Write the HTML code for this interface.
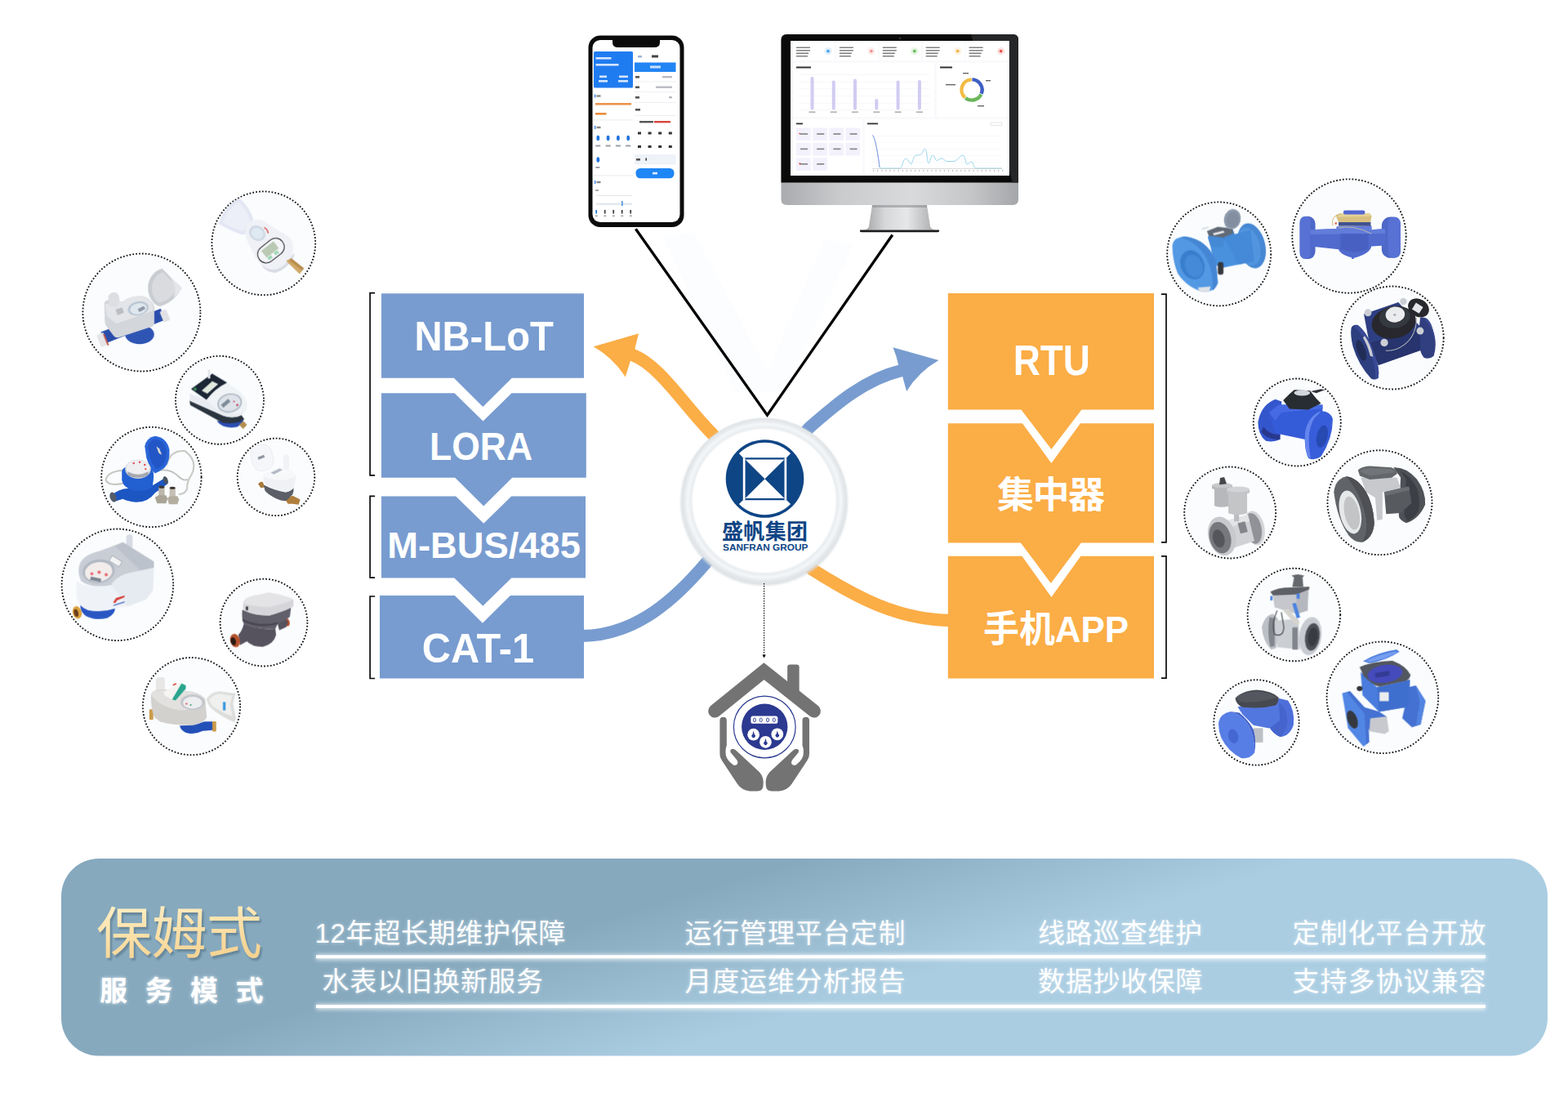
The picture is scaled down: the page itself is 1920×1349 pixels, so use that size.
<!DOCTYPE html>
<html lang="zh-CN"><head><meta charset="utf-8"><title>Smart water meter service diagram</title>
<style>
html,body{margin:0;padding:0;background:#fff}
body{width:1920px;height:1349px;overflow:hidden;font-family:"Liberation Sans","Noto Sans CJK SC",sans-serif}
svg{display:block;font-family:"Liberation Sans","Noto Sans CJK SC",sans-serif}
text{font-family:"Liberation Sans","Noto Sans CJK SC",sans-serif}
</style></head><body>
<svg width="1920" height="1349" viewBox="0 0 1920 1349">
<defs>
<linearGradient id="bannerG" gradientUnits="userSpaceOnUse" x1="1000" y1="1045.9" x2="1051.8" y2="1218.4">
<stop offset="0" stop-color="#86a9be"/><stop offset="0.5" stop-color="#98bbd0"/><stop offset="1" stop-color="#aacde2"/></linearGradient>
<linearGradient id="goldG" x1="0" y1="0" x2="0.3" y2="1">
<stop offset="0" stop-color="#fff1c9"/><stop offset="0.5" stop-color="#fce2ab"/><stop offset="1" stop-color="#f4d292"/></linearGradient>
<filter id="glow" x="-10%" y="-40%" width="120%" height="180%"><feGaussianBlur stdDeviation="2.2"/></filter>
<filter id="glow2" x="-5%" y="-300%" width="110%" height="700%"><feGaussianBlur stdDeviation="2.5"/></filter>
<filter id="sh" x="-10%" y="-10%" width="120%" height="130%"><feGaussianBlur stdDeviation="1.3"/></filter>
<filter id="soft" x="-20%" y="-20%" width="140%" height="140%"><feGaussianBlur stdDeviation="0.6"/></filter>
<filter id="softz" x="-5%" y="-5%" width="110%" height="110%"><feGaussianBlur stdDeviation="3.5"/></filter>
<filter id="soft2" x="-20%" y="-20%" width="140%" height="140%"><feGaussianBlur stdDeviation="1.2"/></filter>
<radialGradient id="ringG" cx="0.5" cy="0.5" r="0.5">
<stop offset="0.86" stop-color="#ffffff"/><stop offset="0.885" stop-color="#e9edf0"/><stop offset="0.93" stop-color="#f4f6f8"/><stop offset="0.97" stop-color="#e6e9ec"/><stop offset="1" stop-color="#dfe3e6"/></radialGradient>
<linearGradient id="chinG" x1="0" y1="0" x2="1" y2="0">
<stop offset="0" stop-color="#a9abae"/><stop offset="0.25" stop-color="#c9cbcd"/><stop offset="0.55" stop-color="#d9dadc"/><stop offset="0.8" stop-color="#c4c6c8"/><stop offset="1" stop-color="#a4a6a9"/></linearGradient>
<linearGradient id="standG" x1="0" y1="0" x2="1" y2="0">
<stop offset="0" stop-color="#9fa1a3"/><stop offset="0.3" stop-color="#d7d8da"/><stop offset="0.6" stop-color="#e6e7e8"/><stop offset="1" stop-color="#a7a9ab"/></linearGradient>
</defs>
<rect width="1920" height="1349" fill="#ffffff"/>
<path d="M812 290 L900 480 L960 480 L1045 300 L1010 292 L940 455 L850 285 Z" fill="#f4f9fd" opacity="0.4"/>
<path d="M1165 759.5 C1100 759 1048 731 994.5 697 L940 640" fill="none" stroke="#fbad46" stroke-width="15.3"/>
<path d="M766 432.5 L774.6 434.5 C808 447 838 497 871.6 530.5 L930 600" fill="none" stroke="#fbad46" stroke-width="15.3"/>
<path d="M726.7 424.2 L782 408.2 L777.4 427.1 L771.9 442 L765.7 461.5 Q751 438 726.7 424.2 Z" fill="#fbad46"/>
<path d="M712 778.6 C780 778 829 731 865.3 688.2 L930 625" fill="none" stroke="#789cd0" stroke-width="15"/>
<path d="M1110 452 L1102.7 453.9 C1060 464 1024 494.4 991.1 523.4 L940 580" fill="none" stroke="#789cd0" stroke-width="15"/>
<path d="M1149.4 441.1 L1093.4 425.3 Q1098 436 1100.2 447.1 L1105.2 460.9 L1110.1 479 Q1125 455 1149.4 441.1 Z" fill="#789cd0"/>
<path d="M467.0 359.3 L715.0 359.3 L715.0 462.7 L626.8 462.7 L591.3 498.0 L555.8 462.7 L467.0 462.7 Z" fill="#789cd0"/>
<path d="M467.0 481.2 L556.5 481.2 L591.5 515.5 L626.5 481.2 L717.8 481.2 L717.8 584.8 L627.2 584.8 L592.2 619.5 L557.2 584.8 L467.0 584.8 Z" fill="#789cd0"/>
<path d="M467.0 607.4 L558.2 607.4 L592.2 640.7 L626.2 607.4 L717.0 607.4 L717.0 707.6 L626.3 707.6 L591.3 741.8 L556.3 707.6 L467.0 707.6 Z" fill="#789cd0"/>
<path d="M465.0 729.0 L556.9 729.0 L590.9 762.7 L624.9 729.0 L715.0 729.0 L715.0 830.5 L465.0 830.5 Z" fill="#789cd0"/>
<path d="M1160.8 358.9 L1413.0 358.9 L1413.0 501.5 L1324.4 501.5 L1287.4 550.0 L1250.4 501.5 L1160.8 501.5 Z" fill="#fbad46"/>
<path d="M1160.8 518.2 L1251.9 518.2 L1287.4 567.0 L1322.9 518.2 L1413.0 518.2 L1413.0 664.4 L1323.8 664.4 L1286.8 713.9 L1249.8 664.4 L1160.8 664.4 Z" fill="#fbad46"/>
<path d="M1160.8 680.8 L1251.4 680.8 L1287.4 730.9 L1323.4 680.8 L1413.0 680.8 L1413.0 830.5 L1160.8 830.5 Z" fill="#fbad46"/>
<path d="M459.1 358.7 H453.1 V581.8 H459.1" fill="none" stroke="#0a0a0a" stroke-width="1.7"/>
<path d="M459.1 607.4 H453.1 V707.2 H459.1" fill="none" stroke="#0a0a0a" stroke-width="1.7"/>
<path d="M459.1 730 H453.1 V830.5 H459.1" fill="none" stroke="#0a0a0a" stroke-width="1.7"/>
<path d="M1422 360.2 H1428 V663.8 H1422" fill="none" stroke="#0a0a0a" stroke-width="1.7"/>
<path d="M1422 680.8 H1428 V830.1 H1422" fill="none" stroke="#0a0a0a" stroke-width="1.7"/>
<text x="507.4" y="429.3" font-size="50" font-weight="700" fill="#fff" textLength="170.5" lengthAdjust="spacingAndGlyphs">NB-LoT</text>
<text x="526" y="563" font-size="48.8" font-weight="700" fill="#fff" textLength="126.0" lengthAdjust="spacingAndGlyphs">LORA</text>
<text x="474.2" y="683" font-size="44.3" font-weight="700" fill="#fff" textLength="236.7" lengthAdjust="spacingAndGlyphs">M-BUS/485</text>
<text x="516.8" y="810.9" font-size="50" font-weight="700" fill="#fff" textLength="137.2" lengthAdjust="spacingAndGlyphs">CAT-1</text>
<text x="1240.7" y="459" font-size="51.3" font-weight="700" fill="#fff" textLength="94.2" lengthAdjust="spacingAndGlyphs">RTU</text>
<text x="1221" y="622" font-size="45" font-weight="700" fill="#fff" textLength="132" lengthAdjust="spacing">集中器</text>
<text x="1204" y="786" font-size="45" font-weight="700" fill="#fff" textLength="178" lengthAdjust="spacingAndGlyphs">手机APP</text>
<path d="M778.4 280.2 L939.5 508.2 L1092.8 287.5" fill="none" stroke="#000" stroke-width="3.3" stroke-linejoin="miter"/>
<circle cx="935.7" cy="614.5" r="102.5" fill="#d9dde1" filter="url(#soft2)" opacity="0.8"/>
<circle cx="935.7" cy="613" r="101" fill="url(#ringG)"/>
<circle cx="936.5" cy="586" r="47.8" fill="#0e4585"/>
<path d="M904.9 555.1 A44.2 44.2 0 0 1 968.1 555.1 L963.2 560.2 L909.8 560.2 Z" fill="#fff"/>
<path d="M904.9 616.9 A44.2 44.2 0 0 0 968.1 616.9 L963.2 612.3 L909.8 612.3 Z" fill="#fff"/>
<rect x="909.8" y="560.2" width="2.7" height="52.1" fill="#fff"/>
<rect x="960.5" y="560.2" width="2.7" height="52.1" fill="#fff"/>
<path d="M912.5 562.4000000000001 L960.5 562.4000000000001 L936.5 586.25 Z M912.5 610.0999999999999 L960.5 610.0999999999999 L936.5 586.25 Z" fill="#fff"/>
<text x="884" y="660" font-size="26" font-weight="700" fill="#0e4585" textLength="105" lengthAdjust="spacing">盛帆集团</text>
<text x="885" y="673.7" font-size="10.6" font-weight="700" fill="#0e4585" textLength="104.4" lengthAdjust="spacingAndGlyphs">SANFRAN GROUP</text>
<path d="M935.6 714 V802" stroke="#111" stroke-width="1.2" stroke-dasharray="1.5 1.5" fill="none"/>
<path d="M933.4 801.5 L935.6 805.5 L937.8 801.5 Z" fill="#111"/>
<g transform="translate(860,800) scale(0.12968)">
<path d="M118 543 L582 167 L1055 543" fill="none" stroke="#737373" stroke-width="125" stroke-linecap="round" stroke-linejoin="miter"/>
<path d="M803 330 V130 Q803 105 828 105 H890 Q915 105 915 130 V420 Z" fill="#737373"/>
<path d="M165 632 Q165 600 197 600 Q230 600 230 632 L230 870 Q215 900 222 960 Q235 1010 290 1050 Q320 1062 333 1040 Q340 1015 310 985 L268 935 Q255 905 285 900 Q305 898 330 925 L540 1120 Q585 1170 575 1250 Q570 1300 520 1300 L450 1300 Q370 1290 330 1230 L185 1010 Q165 985 165 950 Z" fill="#737373"/>
<path d="M165 632 Q165 600 197 600 Q230 600 230 632 L230 870 Q215 900 222 960 Q235 1010 290 1050 Q320 1062 333 1040 Q340 1015 310 985 L268 935 Q255 905 285 900 Q305 898 330 925 L540 1120 Q585 1170 575 1250 Q570 1300 520 1300 L450 1300 Q370 1290 330 1230 L185 1010 Q165 985 165 950 Z" fill="#737373" transform="translate(1175,0) scale(-1,1)"/>
<circle cx="588" cy="694" r="292" fill="#fff" stroke="#2b3990" stroke-width="9"/>
<circle cx="588" cy="692" r="217.5" fill="#2b3990"/>
<rect x="458" y="590" width="254" height="72" rx="20" fill="#fff"/>
<ellipse cx="493" cy="627" rx="12" ry="18" fill="none" stroke="#2b3990" stroke-width="7"/><ellipse cx="553" cy="627" rx="12" ry="18" fill="none" stroke="#2b3990" stroke-width="7"/><ellipse cx="617" cy="627" rx="12" ry="18" fill="none" stroke="#2b3990" stroke-width="7"/><ellipse cx="677" cy="627" rx="12" ry="18" fill="none" stroke="#2b3990" stroke-width="7"/><circle cx="483" cy="765" r="57" fill="#fff"/><path d="M483 729 L492 763 A17 17 0 1 1 474 763 Z" fill="#2b3990"/><circle cx="597" cy="835" r="57" fill="#fff"/><path d="M597 799 L606 833 A17 17 0 1 1 588 833 Z" fill="#2b3990"/><circle cx="708" cy="762" r="57" fill="#fff"/><path d="M708 726 L717 760 A17 17 0 1 1 699 760 Z" fill="#2b3990"/></g>
<rect x="720.5" y="43.5" width="117.0" height="234.5" rx="14.5" fill="#0b0b0c"/>
<rect x="725.5" y="49.0" width="107.0" height="223.0" rx="9.5" fill="#ffffff"/>
<path d="M750 48 H808 V52 Q808 58 801 58 H757 Q750 58 750 52 Z" fill="#0b0b0c"/>
<rect x="727" y="63" width="48" height="44.5" rx="1.5" fill="#1f7cf0"/>
<rect x="729.5" y="70" width="19" height="2.6" fill="#e8f1ff" opacity="0.9"/>
<rect x="729.5" y="78" width="28" height="2.6" fill="#e8f1ff" opacity="0.9"/>
<rect x="734" y="92.5" width="9" height="2.6" fill="#e8f1ff" opacity="0.9"/>
<rect x="733" y="98" width="11" height="2.6" fill="#e8f1ff" opacity="0.9"/>
<rect x="758" y="92.5" width="11" height="2.6" fill="#e8f1ff" opacity="0.9"/>
<rect x="757" y="98" width="12" height="2.6" fill="#e8f1ff" opacity="0.9"/>
<rect x="777" y="76.5" width="50.5" height="11.5" fill="#2185f3"/>
<rect x="796" y="80.5" width="13" height="3" fill="#dbeaff" opacity="0.9"/>
<rect x="798" y="67.5" width="8" height="3" fill="#444"/>
<rect x="781" y="68" width="5" height="2.5" fill="#9bb7dc"/>
<rect x="778" y="93" width="5" height="2.6" fill="#555"/>
<rect x="811" y="93" width="12" height="2.4" fill="#b9bcc2"/>
<rect x="778" y="105.5" width="5" height="2.6" fill="#555"/>
<rect x="803" y="105.5" width="20" height="2.4" fill="#b9bcc2"/>
<rect x="778" y="118" width="5" height="2.6" fill="#555"/>
<rect x="819" y="118" width="4" height="2.4" fill="#b9bcc2"/>
<rect x="778" y="133" width="6" height="2.6" fill="#555"/>
<rect x="777" y="99.5" width="50.5" height="0.8" fill="#e9ecf1"/>
<rect x="777" y="112" width="50.5" height="0.8" fill="#e9ecf1"/>
<rect x="777" y="125" width="50.5" height="0.8" fill="#e9ecf1"/>
<rect x="777" y="141" width="50.5" height="0.8" fill="#e9ecf1"/>
<rect x="783" y="148" width="17" height="2.4" fill="#555"/><rect x="801" y="148" width="20" height="2.4" fill="#d5463c"/>
<rect x="781.0" y="161.5" width="4" height="3" fill="#333"/>
<rect x="793.6" y="161.5" width="4" height="3" fill="#333"/>
<rect x="806.2" y="161.5" width="4" height="3" fill="#333"/>
<rect x="818.8" y="161.5" width="4" height="3" fill="#333"/>
<rect x="781.0" y="178" width="4" height="3" fill="#333"/>
<rect x="793.6" y="178" width="4" height="3" fill="#333"/>
<rect x="806.2" y="178" width="4" height="3" fill="#333"/>
<rect x="818.8" y="178" width="4" height="3" fill="#333"/>
<rect x="777" y="189" width="50.5" height="12.5" fill="#eef2f9"/>
<rect x="779" y="194" width="5" height="2.6" fill="#555"/><rect x="790.5" y="193.5" width="1.5" height="3.2" fill="#333"/>
<rect x="778.5" y="206" width="47" height="12.3" rx="5.5" fill="#1f86f5"/>
<rect x="799" y="210.8" width="6" height="2.6" fill="#e5f0ff"/>
<rect x="728" y="115.5" width="1.3" height="4" fill="#2a7de8"/><rect x="730.5" y="116.3" width="5" height="2.4" fill="#888"/>
<rect x="729" y="126" width="44" height="2.6" fill="#e98a3a" opacity="0.9"/>
<rect x="729" y="138" width="13.5" height="2.6" fill="#e98a3a"/>
<rect x="727" y="146.5" width="48" height="0.8" fill="#e1e5ea"/>
<rect x="728" y="154" width="1.3" height="4" fill="#2a7de8"/><rect x="730.5" y="154.8" width="5" height="2.4" fill="#888"/>
<ellipse cx="732.3" cy="169" rx="1.9" ry="3.3" fill="#2173dc"/>
<rect x="729.3" y="177.5" width="6" height="2" fill="#9aa0a8"/>
<ellipse cx="744.6" cy="169" rx="1.9" ry="3.3" fill="#2173dc"/>
<rect x="741.6" y="177.5" width="6" height="2" fill="#9aa0a8"/>
<ellipse cx="756.9" cy="169" rx="1.9" ry="3.3" fill="#2173dc"/>
<rect x="753.9" y="177.5" width="6" height="2" fill="#9aa0a8"/>
<ellipse cx="769.2" cy="169" rx="1.9" ry="3.3" fill="#2173dc"/>
<rect x="766.2" y="177.5" width="6" height="2" fill="#9aa0a8"/>
<ellipse cx="732.3" cy="195.5" rx="1.9" ry="3.3" fill="#2173dc"/><rect x="729.3" y="204" width="5" height="2" fill="#9aa0a8"/>
<rect x="727" y="214.5" width="48" height="0.8" fill="#e1e5ea"/>
<rect x="728" y="221" width="1.3" height="4" fill="#2a7de8"/><rect x="730.5" y="221.8" width="5" height="2.4" fill="#888"/>
<rect x="729" y="232" width="4" height="2" fill="#aaa"/>
<rect x="730" y="239" width="44" height="0.7" fill="#d8dce2"/><rect x="730" y="248.5" width="44" height="2.6" fill="#e6e9ee"/>
<rect x="761" y="246" width="1.6" height="6" fill="#4b8fe0"/>
<rect x="729.3" y="257" width="1.8" height="4.5" fill="#2a7de8"/><rect x="728.8" y="263.5" width="3" height="1.6" fill="#9aa"/>
<rect x="739.8" y="257" width="1.8" height="4.5" fill="#444"/><rect x="739.3" y="263.5" width="3" height="1.6" fill="#9aa"/>
<rect x="750.3" y="257" width="1.8" height="4.5" fill="#444"/><rect x="749.8" y="263.5" width="3" height="1.6" fill="#9aa"/>
<rect x="760.8" y="257" width="1.8" height="4.5" fill="#444"/><rect x="760.3" y="263.5" width="3" height="1.6" fill="#9aa"/>
<rect x="771.3" y="257" width="1.8" height="4.5" fill="#444"/><rect x="770.8" y="263.5" width="3" height="1.6" fill="#9aa"/>
<path d="M956.5 49 Q956.5 42 963.5 42 H1240 Q1247 42 1247 49 V244 Q1247 251 1240 251 H963.5 Q956.5 251 956.5 244 Z" fill="url(#chinG)"/>
<path d="M956.5 49 Q956.5 42 963.5 42 H1240 Q1247 42 1247 49 V223.6 H956.5 Z" fill="#0a0a0b"/>
<path d="M1189 42 H1240 Q1247 42 1247 49 V223.6 H1240 Z" fill="#2a2b2d" opacity="0.85"/>
<rect x="968" y="50" width="267.6" height="165" fill="#fbfcfe"/>
<circle cx="1102" cy="47" r="1.3" fill="#333"/>
<path d="M1068 251 H1135 L1139 277 Q1140 281 1146 281.5 H1057 Q1063 281 1064 277 Z" fill="url(#standG)"/>
<path d="M1053 281.5 H1150 V283 Q1150 284.2 1148 284.2 H1055 Q1053 284.2 1053 283 Z" fill="#1c1c1d"/>
<rect x="1068" y="251" width="67" height="3" fill="#8e9092" opacity="0.6"/>
<rect x="968" y="50" width="267.6" height="165" fill="#f9fafc"/>
<rect x="971.0" y="52.5" width="51" height="21.5" fill="#fff"/>
<rect x="975.0" y="57.5" width="17" height="1.5" fill="#555" opacity="0.75"/>
<rect x="975.0" y="61.0" width="17" height="1.5" fill="#555" opacity="0.75"/>
<rect x="975.0" y="64.5" width="15" height="1.5" fill="#555" opacity="0.75"/>
<rect x="975.0" y="68.0" width="14" height="1.5" fill="#555" opacity="0.75"/>
<circle cx="1014.0" cy="62.6" r="4.6" fill="#3d9be9" opacity="0.16"/><circle cx="1014.0" cy="62.6" r="1.9" fill="#3d9be9" opacity="0.9"/>
<rect x="1023.9" y="52.5" width="51" height="21.5" fill="#fff"/>
<rect x="1027.9" y="57.5" width="17" height="1.5" fill="#555" opacity="0.75"/>
<rect x="1027.9" y="61.0" width="17" height="1.5" fill="#555" opacity="0.75"/>
<rect x="1027.9" y="64.5" width="15" height="1.5" fill="#555" opacity="0.75"/>
<rect x="1027.9" y="68.0" width="14" height="1.5" fill="#555" opacity="0.75"/>
<circle cx="1066.9" cy="62.6" r="4.6" fill="#f08a8a" opacity="0.16"/><circle cx="1066.9" cy="62.6" r="1.9" fill="#f08a8a" opacity="0.9"/>
<rect x="1076.8" y="52.5" width="51" height="21.5" fill="#fff"/>
<rect x="1080.8" y="57.5" width="17" height="1.5" fill="#555" opacity="0.75"/>
<rect x="1080.8" y="61.0" width="17" height="1.5" fill="#555" opacity="0.75"/>
<rect x="1080.8" y="64.5" width="15" height="1.5" fill="#555" opacity="0.75"/>
<rect x="1080.8" y="68.0" width="14" height="1.5" fill="#555" opacity="0.75"/>
<circle cx="1119.8" cy="62.6" r="4.6" fill="#57b947" opacity="0.16"/><circle cx="1119.8" cy="62.6" r="1.9" fill="#57b947" opacity="0.9"/>
<rect x="1129.7" y="52.5" width="51" height="21.5" fill="#fff"/>
<rect x="1133.7" y="57.5" width="17" height="1.5" fill="#555" opacity="0.75"/>
<rect x="1133.7" y="61.0" width="17" height="1.5" fill="#555" opacity="0.75"/>
<rect x="1133.7" y="64.5" width="15" height="1.5" fill="#555" opacity="0.75"/>
<rect x="1133.7" y="68.0" width="14" height="1.5" fill="#555" opacity="0.75"/>
<circle cx="1172.7" cy="62.6" r="4.6" fill="#f0ad3d" opacity="0.16"/><circle cx="1172.7" cy="62.6" r="1.9" fill="#f0ad3d" opacity="0.9"/>
<rect x="1182.6" y="52.5" width="51" height="21.5" fill="#fff"/>
<rect x="1186.6" y="57.5" width="17" height="1.5" fill="#555" opacity="0.75"/>
<rect x="1186.6" y="61.0" width="17" height="1.5" fill="#555" opacity="0.75"/>
<rect x="1186.6" y="64.5" width="15" height="1.5" fill="#555" opacity="0.75"/>
<rect x="1186.6" y="68.0" width="14" height="1.5" fill="#555" opacity="0.75"/>
<circle cx="1225.6" cy="62.6" r="4.6" fill="#e3473f" opacity="0.16"/><circle cx="1225.6" cy="62.6" r="1.9" fill="#e3473f" opacity="0.9"/>
<rect x="971" y="77" width="173" height="66" fill="#fff"/>
<rect x="975" y="81.5" width="18" height="2" fill="#333"/>
<rect x="978" y="91.5" width="160" height="0.5" fill="#eceef3"/>
<rect x="978" y="100.1" width="160" height="0.5" fill="#eceef3"/>
<rect x="978" y="108.7" width="160" height="0.5" fill="#eceef3"/>
<rect x="978" y="117.3" width="160" height="0.5" fill="#eceef3"/>
<rect x="978" y="125.9" width="160" height="0.5" fill="#eceef3"/>
<rect x="978" y="134.5" width="160" height="0.5" fill="#eceef3"/>
<rect x="992.5" y="94" width="4" height="40.5" rx="2" fill="#c9c3f0" opacity="0.85"/>
<rect x="990.5" y="136.5" width="8" height="1.3" fill="#777" opacity="0.7"/>
<rect x="1018.8" y="98.5" width="4" height="36.0" rx="2" fill="#c9c3f0" opacity="0.85"/>
<rect x="1016.8" y="136.5" width="8" height="1.3" fill="#777" opacity="0.7"/>
<rect x="1045.0" y="96.5" width="4" height="38.0" rx="2" fill="#c9c3f0" opacity="0.85"/>
<rect x="1043.0" y="136.5" width="8" height="1.3" fill="#777" opacity="0.7"/>
<rect x="1071.3" y="121" width="4" height="13.5" rx="2" fill="#c9c3f0" opacity="0.85"/>
<rect x="1069.3" y="136.5" width="8" height="1.3" fill="#777" opacity="0.7"/>
<rect x="1097.6" y="98.5" width="4" height="36.0" rx="2" fill="#c9c3f0" opacity="0.85"/>
<rect x="1095.6" y="136.5" width="8" height="1.3" fill="#777" opacity="0.7"/>
<rect x="1123.9" y="98" width="4" height="36.5" rx="2" fill="#c9c3f0" opacity="0.85"/>
<rect x="1121.9" y="136.5" width="8" height="1.3" fill="#777" opacity="0.7"/>
<rect x="1147" y="77" width="86" height="66" fill="#fff"/>
<rect x="1151" y="81.5" width="15" height="2" fill="#333"/>
<path d="M1190.4 97.4 A12.6 12.6 0 0 1 1201.7 114.7" fill="none" stroke="#3f5fc4" stroke-width="4.4"/>
<path d="M1201.3 115.5 A12.6 12.6 0 0 1 1182.2 119.9" fill="none" stroke="#6cb65a" stroke-width="4.4"/>
<path d="M1181.6 119.4 A12.6 12.6 0 0 1 1189.6 97.4" fill="none" stroke="#f3bb42" stroke-width="4.4"/>
<rect x="1158" y="103" width="12" height="1.4" fill="#666"/><rect x="1207" y="98" width="6" height="1.4" fill="#666"/><rect x="1197" y="129" width="8" height="1.4" fill="#666"/><rect x="1179" y="89" width="7" height="1.4" fill="#666"/>
<rect x="971" y="146" width="85" height="67" fill="#fff"/>
<rect x="975" y="150.5" width="8" height="1.8" fill="#333"/>
<rect x="975.0" y="156.5" width="17.6" height="15.5" fill="#f2f1fc"/><rect x="980.0" y="163.2" width="9" height="1.6" fill="#666" opacity="0.8"/>
<rect x="995.2" y="156.5" width="17.6" height="15.5" fill="#f2f1fc"/><rect x="1000.2" y="163.2" width="9" height="1.6" fill="#666" opacity="0.8"/>
<rect x="1015.4" y="156.5" width="17.6" height="15.5" fill="#f2f1fc"/><rect x="1020.4" y="163.2" width="9" height="1.6" fill="#666" opacity="0.8"/>
<rect x="1035.6" y="156.5" width="17.6" height="15.5" fill="#f2f1fc"/><rect x="1040.6" y="163.2" width="9" height="1.6" fill="#666" opacity="0.8"/>
<rect x="975.0" y="174.9" width="17.6" height="15.5" fill="#f2f1fc"/><rect x="980.0" y="181.6" width="9" height="1.6" fill="#666" opacity="0.8"/>
<rect x="995.2" y="174.9" width="17.6" height="15.5" fill="#f2f1fc"/><rect x="1000.2" y="181.6" width="9" height="1.6" fill="#666" opacity="0.8"/>
<rect x="1015.4" y="174.9" width="17.6" height="15.5" fill="#f2f1fc"/><rect x="1020.4" y="181.6" width="9" height="1.6" fill="#666" opacity="0.8"/>
<rect x="1035.6" y="174.9" width="17.6" height="15.5" fill="#f2f1fc"/><rect x="1040.6" y="181.6" width="9" height="1.6" fill="#666" opacity="0.8"/>
<rect x="975.0" y="193.3" width="17.6" height="15.5" fill="#f2f1fc"/><rect x="980.0" y="200.0" width="9" height="1.6" fill="#666" opacity="0.8"/>
<rect x="995.2" y="193.3" width="17.6" height="15.5" fill="#f2f1fc"/><rect x="1000.2" y="200.0" width="9" height="1.6" fill="#666" opacity="0.8"/>
<rect x="978.5" y="199.5" width="1.8" height="1.8" fill="#d33"/><rect x="978.5" y="162.8" width="1.5" height="1.5" fill="#d33"/>
<rect x="1059" y="146" width="174" height="67" fill="#fff"/>
<rect x="1062" y="150.5" width="13" height="1.8" fill="#333"/>
<rect x="1213" y="150" width="14" height="3.6" fill="none" stroke="#ccc" stroke-width="0.5"/>
<rect x="1068" y="166.0" width="159" height="0.4" fill="#eef0f4"/>
<rect x="1068" y="174.0" width="159" height="0.4" fill="#eef0f4"/>
<rect x="1068" y="182.0" width="159" height="0.4" fill="#eef0f4"/>
<rect x="1068" y="190.0" width="159" height="0.4" fill="#eef0f4"/>
<rect x="1068" y="198.0" width="159" height="0.4" fill="#eef0f4"/>
<rect x="1068" y="206.0" width="159" height="0.4" fill="#eef0f4"/>
<path d="M1068.5 165.5 C1072 170 1075 188 1077 204.5 C1077.4 205.8 1078 206 1080 206 H1102 C1105 206 1105 196 1108.5 194.5 C1112 193 1113 200 1116 201 C1118 196 1119 190.5 1122 190 C1126 189.5 1128 190.5 1130 186 C1132 180 1134 181 1135 190 C1136 200 1137 203 1139 196 C1141 188 1143 189 1145 194 C1147 199 1149 195 1152 194 C1155 193 1156 197 1160 197.5 H1168 C1172 197 1176 190 1179 190 C1182 190 1182 200 1184 201 C1186 201.5 1187 198 1190 198 C1192 198 1192 206 1195 206 H1227" fill="none" stroke="#8fd0e8" stroke-width="0.9"/>
<path d="M1068.5 165.5 C1072 170 1075 188 1077 204.5" fill="none" stroke="#8a8fe0" stroke-width="0.9"/>
<rect x="1068" y="206.2" width="159" height="0.5" fill="#bbb"/>
<rect x="1069.0" y="208.3" width="1.2" height="1.3" fill="#999"/>
<rect x="1074.1" y="208.3" width="1.2" height="1.3" fill="#999"/>
<rect x="1079.2" y="208.3" width="1.2" height="1.3" fill="#999"/>
<rect x="1084.3" y="208.3" width="1.2" height="1.3" fill="#999"/>
<rect x="1089.4" y="208.3" width="1.2" height="1.3" fill="#999"/>
<rect x="1094.5" y="208.3" width="1.2" height="1.3" fill="#999"/>
<rect x="1099.6" y="208.3" width="1.2" height="1.3" fill="#999"/>
<rect x="1104.7" y="208.3" width="1.2" height="1.3" fill="#999"/>
<rect x="1109.8" y="208.3" width="1.2" height="1.3" fill="#999"/>
<rect x="1114.9" y="208.3" width="1.2" height="1.3" fill="#999"/>
<rect x="1120.0" y="208.3" width="1.2" height="1.3" fill="#999"/>
<rect x="1125.1" y="208.3" width="1.2" height="1.3" fill="#999"/>
<rect x="1130.2" y="208.3" width="1.2" height="1.3" fill="#999"/>
<rect x="1135.3" y="208.3" width="1.2" height="1.3" fill="#999"/>
<rect x="1140.4" y="208.3" width="1.2" height="1.3" fill="#999"/>
<rect x="1145.5" y="208.3" width="1.2" height="1.3" fill="#999"/>
<rect x="1150.6" y="208.3" width="1.2" height="1.3" fill="#999"/>
<rect x="1155.7" y="208.3" width="1.2" height="1.3" fill="#999"/>
<rect x="1160.8" y="208.3" width="1.2" height="1.3" fill="#999"/>
<rect x="1165.9" y="208.3" width="1.2" height="1.3" fill="#999"/>
<rect x="1171.0" y="208.3" width="1.2" height="1.3" fill="#999"/>
<rect x="1176.1" y="208.3" width="1.2" height="1.3" fill="#999"/>
<rect x="1181.2" y="208.3" width="1.2" height="1.3" fill="#999"/>
<rect x="1186.3" y="208.3" width="1.2" height="1.3" fill="#999"/>
<rect x="1191.4" y="208.3" width="1.2" height="1.3" fill="#999"/>
<rect x="1196.5" y="208.3" width="1.2" height="1.3" fill="#999"/>
<rect x="1201.6" y="208.3" width="1.2" height="1.3" fill="#999"/>
<rect x="1206.7" y="208.3" width="1.2" height="1.3" fill="#999"/>
<rect x="1211.8" y="208.3" width="1.2" height="1.3" fill="#999"/>
<rect x="1216.9" y="208.3" width="1.2" height="1.3" fill="#999"/>
<rect x="1222.0" y="208.3" width="1.2" height="1.3" fill="#999"/>
<rect x="1227.1" y="208.3" width="1.2" height="1.3" fill="#999"/>
<circle cx="322.8" cy="297.8" r="63.4" fill="#fafcfe" stroke="#111" stroke-width="1.85" stroke-dasharray="1.75 2.15"/>
<circle cx="173.4" cy="382.5" r="72" fill="#fafcfe" stroke="#111" stroke-width="1.85" stroke-dasharray="1.75 2.15"/>
<circle cx="269" cy="489.8" r="54" fill="#fafcfe" stroke="#111" stroke-width="1.85" stroke-dasharray="1.75 2.15"/>
<circle cx="185.4" cy="584" r="61.2" fill="#fafcfe" stroke="#111" stroke-width="1.85" stroke-dasharray="1.75 2.15"/>
<circle cx="338" cy="583.9" r="47.3" fill="#fafcfe" stroke="#111" stroke-width="1.85" stroke-dasharray="1.75 2.15"/>
<circle cx="143.9" cy="715.8" r="68.3" fill="#fafcfe" stroke="#111" stroke-width="1.85" stroke-dasharray="1.75 2.15"/>
<circle cx="323" cy="762.1" r="53.4" fill="#fafcfe" stroke="#111" stroke-width="1.85" stroke-dasharray="1.75 2.15"/>
<circle cx="234.5" cy="864.6" r="59.6" fill="#fafcfe" stroke="#111" stroke-width="1.85" stroke-dasharray="1.75 2.15"/>
<circle cx="1492.7" cy="310.9" r="63.5" fill="#fafcfe" stroke="#111" stroke-width="1.85" stroke-dasharray="1.75 2.15"/>
<circle cx="1652" cy="289" r="69.7" fill="#fafcfe" stroke="#111" stroke-width="1.85" stroke-dasharray="1.75 2.15"/>
<circle cx="1704.7" cy="413.5" r="63" fill="#fafcfe" stroke="#111" stroke-width="1.85" stroke-dasharray="1.75 2.15"/>
<circle cx="1588.3" cy="517" r="53.5" fill="#fafcfe" stroke="#111" stroke-width="1.85" stroke-dasharray="1.75 2.15"/>
<circle cx="1506.2" cy="627.5" r="56" fill="#fafcfe" stroke="#111" stroke-width="1.85" stroke-dasharray="1.75 2.15"/>
<circle cx="1689.5" cy="615.2" r="64" fill="#fafcfe" stroke="#111" stroke-width="1.85" stroke-dasharray="1.75 2.15"/>
<circle cx="1584.4" cy="752.5" r="56.8" fill="#fafcfe" stroke="#111" stroke-width="1.85" stroke-dasharray="1.75 2.15"/>
<circle cx="1538.5" cy="884.4" r="52.2" fill="#fafcfe" stroke="#111" stroke-width="1.85" stroke-dasharray="1.75 2.15"/>
<circle cx="1692.9" cy="853.8" r="68.3" fill="#fafcfe" stroke="#111" stroke-width="1.85" stroke-dasharray="1.75 2.15"/>
<g transform="translate(250,225) scale(0.11120)" filter="url(#softz)">
<path d="M160 440 Q230 230 390 160 Q470 230 520 330 Q560 420 520 480 Q470 560 420 560 Q300 520 160 440 Z" fill="#e3e6f3"/>
<path d="M200 430 Q260 260 385 200 Q450 270 490 350 Q520 430 480 480 Q440 530 400 520 Z" fill="#eceef8"/>
<path d="M470 440 Q540 380 640 400 L930 580 Q990 640 980 720 L960 800 Q900 900 800 940 Q700 950 640 900 L560 800 Q520 720 480 640 Q430 520 470 440 Z" fill="#f0f1f6"/>
<path d="M620 880 Q700 960 800 940 Q900 900 960 800 L990 760 Q1000 800 960 850 Q880 960 780 980 Q680 980 620 880 Z" fill="#d9dbe4"/>
<ellipse cx="585" cy="545" rx="95" ry="80" transform="rotate(35 585 545)" fill="#cfd9e6"/>
<ellipse cx="585" cy="545" rx="70" ry="58" transform="rotate(35 585 545)" fill="#dfe9f1"/>
<path d="M660 480 Q700 500 705 545" stroke="#d65a5a" stroke-width="14" fill="none"/>
<rect x="575" y="640" width="320" height="190" rx="92" transform="rotate(-38 735 735)" fill="#f4f5f8" stroke="#1c1c22" stroke-width="9"/>
<rect x="640" y="675" width="170" height="95" transform="rotate(-38 725 722)" fill="#b9c9b4"/>
<rect x="700" y="795" width="50" height="34" transform="rotate(-38 725 812)" fill="#9fd8b6"/>
<rect x="770" y="742" width="50" height="34" transform="rotate(-38 795 759)" fill="#9fd8b6"/>
<path d="M905 850 L960 820 L1100 930 L1050 990 Z" fill="#b98d4c"/>
<path d="M905 850 L930 835 L1075 950 L1050 990 Z" fill="#d0a866"/>
</g>
<g transform="translate(95,305) scale(0.11862)" filter="url(#softz)">
<path d="M262 915 L880 672" stroke="#2c4dab" stroke-width="125" fill="none"/>
<ellipse cx="640" cy="880" rx="150" ry="100" fill="#2f54b4"/>
<rect x="215" y="868" width="78" height="135" rx="18" transform="rotate(-22 254 935)" fill="#e6e6e9"/>
<rect x="865" y="628" width="72" height="120" rx="18" transform="rotate(-22 901 688)" fill="#e1e1e5"/>
<rect x="285" y="872" width="16" height="125" transform="rotate(-22 293 935)" fill="#c0584c"/>
<path d="M275 565 Q275 540 305 528 L318 520 L318 485 Q350 435 400 452 Q432 470 432 540 L462 545 Q520 490 620 484 Q720 480 762 540 Q800 580 792 640 L792 760 Q790 792 760 802 L420 912 Q390 918 370 892 L300 800 Q275 770 280 700 Z" fill="#d3d6da"/>
<path d="M282 570 L430 545 L462 548 Q520 492 620 488 Q715 484 758 545 Q792 590 770 640 L400 770 L300 690 Z" fill="#e3e5e8"/>
<path d="M318 520 L318 485 Q350 435 400 452 Q432 470 432 540 L400 600 L320 580 Z" fill="#dcdee2"/>
<ellipse cx="625" cy="612" rx="108" ry="72" transform="rotate(-12 625 612)" fill="#b9c6d4"/>
<ellipse cx="628" cy="615" rx="88" ry="56" transform="rotate(-12 628 615)" fill="#dfe7ee"/>
<rect x="625" y="600" width="70" height="34" transform="rotate(-28 660 617)" fill="#8d99a6"/>
<rect x="400" y="610" width="70" height="60" transform="rotate(-20 435 640)" fill="#9ea3aa" opacity="0.6"/>
<path d="M745 492 Q700 380 762 280 Q800 222 872 200 L1075 400 Q1000 545 850 590 Q790 580 745 492 Z" fill="#c9ccd1"/>
<path d="M780 480 Q745 390 795 300 Q830 250 880 235 L1040 400 Q975 515 850 555 Q805 545 780 480 Z" fill="#d9dbdf"/>
<path d="M872 200 L1075 400 Q1040 470 990 500 Q1020 420 1000 370 Q960 280 872 200 Z" fill="#e5e6e9"/>
</g>
<g transform="translate(210,430) scale(0.08897)" filter="url(#softz)">
<path d="M620 955 Q700 1075 900 1042 Q985 1005 990 935 Q850 1000 620 955 Z" fill="#2b4eb2"/>
<path d="M930 1010 L990 960 L1040 1010 L985 1070 Z" fill="#b58f50"/>
<path d="M248 680 L720 890 Q850 930 962 878 L1002 935 Q900 1012 700 982 L258 742 Z" fill="#2a343f"/>
<path d="M250 580 L480 670 Q560 520 760 440 Q1000 560 1040 720 Q1042 830 960 880 Q850 932 720 890 L250 682 Z" fill="#e8ecf1"/>
<path d="M480 670 Q560 520 760 440 Q1000 560 1040 720 Q1042 780 1010 830 Q900 900 720 840 Q560 780 480 670 Z" fill="#f0f3f6"/>
<path d="M268 520 L560 308 L765 432 Q600 510 480 668 Z" fill="#1b2636"/>
<path d="M415 542 L560 412 L642 452 L492 582 Z" fill="#e1e8de"/>
<rect x="305" y="500" width="40" height="40" transform="rotate(-35 325 520)" fill="#3d8a55"/>
<rect x="500" y="255" width="34" height="120" rx="8" fill="#e4e8ee"/>
<ellipse cx="800" cy="712" rx="172" ry="132" transform="rotate(-12 800 712)" fill="#b4bdc8"/>
<ellipse cx="800" cy="712" rx="150" ry="112" transform="rotate(-12 800 712)" fill="#dde3e9"/>
<rect x="680" y="690" width="130" height="50" transform="rotate(-40 745 715)" fill="#7f8c99"/>
<circle cx="905" cy="740" r="16" fill="#c4506a"/><circle cx="860" cy="690" r="12" fill="#c4506a"/>
</g>
<g transform="translate(115,515) scale(0.10378)" filter="url(#softz)">
<path d="M335 585 Q160 600 140 700 Q170 775 345 740" fill="none" stroke="#c6c6c2" stroke-width="20"/>
<path d="M860 520 Q900 345 1075 358 Q1235 480 1150 640 Q1095 720 1100 800 Q1085 862 1000 870" fill="none" stroke="#c9c9c5" stroke-width="20"/>
<path d="M750 590 Q900 555 1000 660 Q1070 720 1105 690" fill="none" stroke="#bfbfbb" stroke-width="18"/>
<path d="M200 885 Q300 800 400 800 L700 760 Q800 700 850 668 L872 742 Q800 800 722 850 Q640 962 500 962 Q400 952 340 922 L250 952 Z" fill="#1f56c2"/>
<ellipse cx="226" cy="902" rx="36" ry="60" transform="rotate(-20 226 902)" fill="#535b69"/>
<ellipse cx="846" cy="702" rx="26" ry="46" transform="rotate(-20 846 702)" fill="#4a5260"/>
<path d="M330 600 Q330 560 400 540 L680 560 Q712 600 702 700 L690 782 Q600 842 460 822 Q340 782 330 700 Z" fill="#2461d2"/>
<path d="M600 300 Q620 200 722 180 Q862 200 890 340 Q902 480 830 560 Q770 602 720 622 Q660 560 620 440 Z" fill="#2a65d8"/>
<path d="M640 300 Q655 235 722 215 Q830 235 855 345 Q862 460 805 535 Q770 560 740 575 Q690 520 655 420 Z" fill="#2157c6"/>
<path d="M735 300 L772 330 L802 402 L766 382 Z" fill="#dcd9d3"/>
<ellipse cx="520" cy="572" rx="152" ry="112" fill="#c9ccd2"/>
<ellipse cx="520" cy="560" rx="140" ry="98" fill="#efeff1"/>
<path d="M400 640 Q520 700 640 640 L640 600 Q520 665 400 600 Z" fill="#8a8f98" opacity="0.7"/>
<circle cx="470" cy="500" r="12" fill="#e0525a"/><circle cx="540" cy="490" r="12" fill="#e0525a"/><circle cx="600" cy="520" r="12" fill="#e0525a"/><circle cx="610" cy="570" r="11" fill="#e0525a"/>
<rect x="764" y="775" width="70" height="130" rx="10" fill="#bdb8ab"/>
<ellipse cx="799" cy="782" rx="34" ry="16" fill="#3a3630"/>
<path d="M720 905 L760 880 L850 880 L870 920 L850 975 L745 975 Z" fill="#a9a496"/>
<rect x="892" y="785" width="70" height="125" rx="10" fill="#c4bfb3"/>
<ellipse cx="927" cy="793" rx="34" ry="16" fill="#3a3630"/>
<path d="M868 915 L895 890 L985 890 L1005 930 L985 985 L885 985 Z" fill="#b3ae9f"/>
</g>
<g transform="translate(280,525) scale(0.08897)" filter="url(#softz)">
<path d="M405 760 Q425 722 470 730 L495 800 L445 815 Z" fill="#a97a3a"/>
<path d="M775 965 L880 920 L985 972 L962 1042 L880 1032 L815 1032 Z" fill="#b07f3d"/>
<path d="M480 770 Q640 852 780 872 Q862 860 892 810 Q902 862 880 902 L790 992 Q720 992 640 952 Q540 902 500 852 Z" fill="#5b5f68"/>
<path d="M480 640 Q500 600 560 590 L700 520 L880 580 Q932 620 920 700 L900 800 Q860 862 780 872 Q640 842 500 762 Q470 700 480 640 Z" fill="#f0f1f5"/>
<path d="M480 640 Q500 600 560 590 L700 520 L880 580 Q925 615 915 660 Q760 720 640 700 Q520 680 480 640 Z" fill="#f7f8fa"/>
<path d="M580 600 L700 545 L742 566 L622 626 Z" fill="#b3b9c4"/>
<rect x="755" y="350" width="76" height="215" rx="34" fill="#f1f2f6"/>
<path d="M300 330 Q320 230 480 215 Q562 215 590 300 L620 440 Q622 520 540 560 Q440 600 380 560 Q310 480 300 330 Z" fill="#f5f6f9" stroke="#e0e3e9" stroke-width="6"/>
<rect x="402" y="372" width="92" height="36" transform="rotate(-22 448 390)" fill="#8f97a3"/>
</g>
<g transform="translate(65,640) scale(0.11862)" filter="url(#softz)">
<path d="M280 850 Q400 932 640 880 Q642 940 560 982 Q440 1012 340 962 Q280 922 280 850 Z" fill="#2a56c4"/>
<ellipse cx="248" cy="925" rx="46" ry="66" transform="rotate(-15 248 925)" fill="#dba33d"/>
<ellipse cx="238" cy="930" rx="22" ry="40" transform="rotate(-15 238 930)" fill="#6b3e1e"/>
<path d="M240 600 Q400 700 600 640 Q640 560 760 520 L1040 440 L1030 700 L960 790 L770 862 L640 882 Q500 932 360 902 Q260 862 240 760 Z" fill="#eff2f7"/>
<path d="M600 640 Q640 560 760 520 L1040 440 L1030 700 L960 790 L770 862 Q700 760 600 640 Z" fill="#e6eaf1"/>
<rect x="755" y="120" width="66" height="145" rx="30" fill="#d7dbe3"/>
<path d="M270 440 Q300 330 480 290 L720 200 L1040 400 L1040 462 L760 522 Q640 562 600 642 Q400 682 290 602 Q250 520 270 440 Z" fill="#c9ced6"/>
<path d="M640 240 L720 200 L1040 400 L1040 462 L900 490 Z" fill="#bcc2cb"/>
<ellipse cx="470" cy="500" rx="166" ry="122" transform="rotate(-8 470 500)" fill="#b1b8c3"/>
<ellipse cx="470" cy="506" rx="142" ry="100" transform="rotate(-8 470 506)" fill="#f2edeb"/>
<circle cx="400" cy="525" r="16" fill="#e86a72"/><circle cx="475" cy="510" r="17" fill="#e86a72"/><circle cx="548" cy="535" r="16" fill="#e86a72"/>
<rect x="385" y="565" width="110" height="36" transform="rotate(12 440 583)" fill="#7d8592"/>
<rect x="585" y="365" width="120" height="62" transform="rotate(32 645 396)" fill="#f4f4f4" stroke="#8a8f98" stroke-width="5"/>
<path d="M620 820 L650 775 L740 750 L735 770 L660 800 L640 830 Z" fill="#d6403a"/>
<rect x="620" y="830" width="120" height="10" transform="rotate(-18 680 835)" fill="#3a5fc0"/>
</g>
<g transform="translate(260,700) scale(0.09637)" filter="url(#softz)">
<ellipse cx="950" cy="640" rx="32" ry="52" transform="rotate(-15 950 640)" fill="#b4502c"/>
<path d="M830 660 L900 600 L962 622 L940 702 L850 742 Z" fill="#55525e"/>
<path d="M400 660 Q600 742 800 722 L810 800 Q780 922 640 952 Q500 952 440 882 L350 932 L330 800 Q380 750 400 660 Z" fill="#56525f"/>
<path d="M380 480 L440 505 Q520 545 720 556 Q900 506 1000 455 L985 572 Q900 642 830 662 L800 722 Q600 742 400 662 Q370 600 380 480 Z" fill="#615e6a"/>
<path d="M380 600 Q600 700 830 640 L828 665 Q600 730 385 625 Z" fill="#4a4753"/>
<path d="M390 400 Q400 340 500 310 L720 265 Q900 290 1030 350 L1030 442 Q900 502 720 552 Q520 542 440 502 L390 472 Z" fill="#d6d6da"/>
<path d="M390 400 Q400 340 500 310 L720 265 Q900 290 1030 350 Q900 410 720 450 Q520 440 390 400 Z" fill="#e4e4e7"/>
<rect x="425" y="440" width="30" height="48" fill="#44414c"/>
<ellipse cx="288" cy="872" rx="62" ry="86" transform="rotate(-15 288 872)" fill="#b5512d"/>
<ellipse cx="266" cy="882" rx="32" ry="52" transform="rotate(-15 266 882)" fill="#2a1a16"/>
</g>
<g transform="translate(165,795) scale(0.10378)" filter="url(#softz)">
<rect x="172" y="705" width="46" height="125" rx="8" fill="#c99a48"/>
<path d="M530 900 Q700 900 820 850 L920 850 L940 950 L800 962 Q700 1012 600 982 Q540 952 530 900 Z" fill="#2450b8"/>
<rect x="915" y="848" width="46" height="120" rx="8" fill="#c99a48"/>
<path d="M190 540 Q200 500 250 480 L250 350 Q300 312 350 340 L350 470 L600 490 Q760 500 830 580 L850 800 Q820 862 700 892 Q500 902 300 852 L230 800 Q190 700 190 540 Z" fill="#d2d1ce"/>
<path d="M195 545 Q205 505 250 488 L350 478 L600 495 Q755 505 825 585 Q760 700 560 720 Q330 700 195 545 Z" fill="#e2e1df"/>
<path d="M250 350 Q300 312 350 340 L350 470 L250 480 Z" fill="#e8e7e5"/>
<ellipse cx="682" cy="622" rx="142" ry="92" fill="#c3c6cb"/>
<ellipse cx="682" cy="628" rx="112" ry="70" fill="#eceef0"/>
<circle cx="610" cy="640" r="12" fill="#e26b6b"/><circle cx="660" cy="655" r="10" fill="#3f9e6e"/>
<path d="M340 500 L540 390 L602 422 L602 462 L470 612 L350 542 Z" fill="#f4f4f2"/>
<path d="M552 400 L602 425 L602 462 L480 602 L440 590 Z" fill="#2aa58d"/>
<rect x="448" y="404" width="44" height="16" transform="rotate(-25 470 412)" fill="#d8433b"/>
<path d="M850 580 Q900 500 1000 495 L1190 520 L1160 640 L1195 812 L1180 862 Q1000 782 900 692 Q850 640 850 580 Z" fill="#dddddb"/>
<path d="M880 590 Q920 530 1000 525 L1150 545 L1125 650 L1150 790 Q1000 730 920 670 Q880 630 880 590 Z" fill="#f0f0ef"/>
<rect x="1040" y="620" width="32" height="100" rx="6" fill="#3d9be0"/>
</g>
<g transform="translate(1420,235) scale(0.11120)" filter="url(#softz)">
<ellipse cx="1012" cy="592" rx="150" ry="252" transform="rotate(-14 1012 592)" fill="#3c82d2"/>
<ellipse cx="985" cy="600" rx="120" ry="215" transform="rotate(-14 985 600)" fill="#4a90de"/>
<path d="M560 600 L700 500 L1000 420 L1040 762 L700 832 L600 802 Z" fill="#3f8cdc"/>
<path d="M700 500 L1000 420 L1040 762 L860 800 Q800 640 700 500 Z" fill="#3a84d6"/>
<path d="M530 500 L560 440 L800 400 L830 472 L700 532 L700 602 L560 602 Z" fill="#3a82d2"/>
<path d="M520 430 L640 382 L800 400 L812 452 L700 502 L540 482 Z" fill="#5a6470"/>
<path d="M585 455 L700 425 L715 445 L600 478 Z" fill="#e6e8ea"/>
<path d="M460 400 L540 380 L540 395 L470 415 Z" fill="#d3d7dc"/>
<ellipse cx="800" cy="300" rx="92" ry="112" transform="rotate(15 800 300)" fill="#8896a8"/>
<ellipse cx="805" cy="305" rx="70" ry="88" transform="rotate(15 805 305)" fill="#7d8a9b"/>
<path d="M140 600 Q140 500 280 490 Q520 520 620 760 L640 1000 Q600 1102 480 1102 Q300 1052 200 900 Q140 760 140 600 Z" fill="#4a93e2"/>
<path d="M280 490 Q520 520 620 760 L640 1000 Q620 1060 580 1085 Q600 900 520 740 Q430 560 230 500 Z" fill="#3a80d2"/>
<ellipse cx="360" cy="802" rx="128" ry="165" transform="rotate(-22 360 802)" fill="#2f78cc"/>
<ellipse cx="375" cy="815" rx="95" ry="130" transform="rotate(-22 375 815)" fill="#3a84d6"/>
<rect x="640" y="770" width="62" height="140" rx="24" fill="#2a2d33"/>
<path d="M420 1052 L560 1040 L545 1100 L440 1102 Z" fill="#dde1e5"/>
</g>
<g transform="translate(1575,210) scale(0.11862)" filter="url(#softz)">
<rect x="140" y="462" width="160" height="440" rx="75" fill="#4560c6"/>
<rect x="140" y="462" width="110" height="440" rx="55" fill="#4f6bd2"/>
<rect x="985" y="468" width="195" height="424" rx="90" fill="#4560c6"/>
<rect x="1050" y="468" width="130" height="424" rx="62" fill="#4f6bd2"/>
<path d="M250 600 L520 590 L520 570 L880 560 L880 600 L1020 590 L1020 762 L880 772 Q860 852 700 892 Q560 862 540 802 L250 772 Z" fill="#4763cc"/>
<path d="M250 600 L520 590 L520 570 L880 560 L880 600 L1020 590 L1020 640 L250 650 Z" fill="#5a75d8"/>
<path d="M560 640 L850 640 L850 800 Q700 860 560 800 Z" fill="#3f59c0"/>
<rect x="540" y="520" width="332" height="42" fill="#39488a"/>
<path d="M510 452 L560 430 L860 430 L882 460 L870 522 L540 522 Z" fill="#d6be7a"/>
<path d="M510 452 L560 430 L860 430 L882 460 L540 470 Z" fill="#e4d094"/>
<rect x="590" y="400" width="222" height="42" rx="16" fill="#4a5fd0"/>
<path d="M560 440 Q455 460 480 560" fill="none" stroke="#c9b26a" stroke-width="8"/>
<path d="M540 582 Q700 548 880 642" fill="none" stroke="#c9c0a0" stroke-width="7"/>
<circle cx="512" cy="535" r="12" fill="#e06a4a"/>
<rect x="675" y="880" width="22" height="22" fill="#4763cc"/>
</g>
<g transform="translate(1630,340) scale(0.11120)" filter="url(#softz)">
<path d="M980 440 Q1060 420 1100 520 Q1180 700 1130 860 Q1082 902 1020 880 Q960 800 960 640 Z" fill="#26357a"/>
<path d="M1040 470 Q1120 560 1140 700 Q1140 800 1110 860 Q1170 720 1110 540 Q1090 470 1040 440 Z" fill="#31438e"/>
<path d="M360 400 L740 270 L1000 560 L980 800 L520 962 L420 720 Z" fill="#24357c"/>
<path d="M420 720 L980 560 L980 800 L520 962 Z" fill="#1c2a66"/>
<path d="M220 560 Q230 510 290 520 Q400 600 470 820 Q540 1000 520 1102 Q480 1132 440 1110 Q300 960 240 760 Q210 640 220 560 Z" fill="#243479"/>
<path d="M290 520 Q400 600 470 820 Q540 1000 520 1102 Q500 1120 480 1120 Q500 1000 430 820 Q360 620 250 540 Z" fill="#2f4190"/>
<path d="M370 640 Q440 740 462 870 L430 860 Q400 740 350 660 Z" fill="#c7cad2"/>
<ellipse cx="330" cy="800" rx="45" ry="120" transform="rotate(-18 330 800)" fill="#18224f"/>
<ellipse cx="690" cy="492" rx="246" ry="176" transform="rotate(-12 690 492)" fill="#1d1f24"/>
<ellipse cx="700" cy="432" rx="172" ry="122" transform="rotate(-8 700 432)" fill="#2c2e34"/>
<ellipse cx="705" cy="405" rx="106" ry="86" transform="rotate(-8 705 405)" fill="#e9ebee"/>
<circle cx="700" cy="408" r="14" fill="#a9aeb6"/>
<ellipse cx="962" cy="332" rx="122" ry="96" transform="rotate(32 962 332)" fill="#1b1c20"/>
<rect x="905" y="292" width="92" height="84" transform="rotate(32 951 334)" fill="#e3e5e8"/>
<circle cx="405" cy="385" r="40" fill="#c9ccd2"/><circle cx="795" cy="260" r="38" fill="#c9ccd2"/><circle cx="980" cy="585" r="40" fill="#c9ccd2"/><circle cx="585" cy="715" r="42" fill="#c9ccd2"/>
<path d="M940 440 Q940 640 800 740 Q700 812 600 800" fill="none" stroke="#b0b3b8" stroke-width="9"/>
</g>
<g transform="translate(1525,455) scale(0.09637)" filter="url(#softz)">
<path d="M160 640 Q200 420 380 350 L460 380 L440 862 Q360 902 260 880 Q160 800 160 640 Z" fill="#2a4ecb"/>
<path d="M200 760 Q260 860 440 862 L440 800 Q300 800 230 700 Z" fill="#1d2f86"/>
<path d="M300 520 L420 420 L980 420 L980 520 L860 700 L760 862 L380 782 Z" fill="#2c52d6"/>
<path d="M300 520 L420 420 L980 420 L980 470 L460 520 L380 620 Z" fill="#3b62e2"/>
<path d="M480 362 L560 282 L620 232 L820 240 L900 340 L960 402 L800 482 L560 472 Z" fill="#1e2026"/>
<ellipse cx="720" cy="270" rx="102" ry="36" fill="#cfd4da"/>
<path d="M830 250 L960 220 L1012 232 L900 272 Z" fill="#2a2c33"/>
<path d="M760 760 Q800 560 960 500 Q1080 500 1110 600 Q1110 850 960 1080 Q880 1132 800 1100 Q740 960 760 760 Z" fill="#2d55d8"/>
<path d="M760 760 Q800 560 960 500 L930 540 Q840 600 810 780 Q800 960 830 1090 L800 1100 Q740 960 760 760 Z" fill="#5b7fee"/>
<ellipse cx="975" cy="822" rx="70" ry="142" transform="rotate(12 975 822)" fill="#1f3fae"/>
</g>
<g transform="translate(1440,560) scale(0.10007)" filter="url(#softz)">
<ellipse cx="962" cy="862" rx="120" ry="212" transform="rotate(-12 962 862)" fill="#d1d2d5"/>
<ellipse cx="945" cy="868" rx="100" ry="190" transform="rotate(-12 945 868)" fill="#8b8d92"/>
<path d="M600 780 L880 700 L960 1020 L720 1102 Z" fill="#cfd0d3"/>
<path d="M600 780 L880 700 L900 780 L640 860 Z" fill="#e2e3e5"/>
<ellipse cx="562" cy="962" rx="166" ry="242" transform="rotate(-15 562 962)" fill="#c6c7ca"/>
<ellipse cx="540" cy="980" rx="130" ry="196" transform="rotate(-15 540 980)" fill="#6f7176"/>
<ellipse cx="522" cy="992" rx="70" ry="112" transform="rotate(-15 522 992)" fill="#4b4d52"/>
<rect x="770" y="790" width="92" height="132" transform="rotate(-15 816 856)" fill="#7d7f85"/>
<rect x="710" y="690" width="62" height="92" fill="#b9babd"/>
<path d="M440 340 Q560 300 690 340 L690 380 L650 390 L650 592 Q560 622 470 592 L470 390 L440 380 Z" fill="#b4b5b8"/>
<path d="M620 390 Q760 340 900 390 L900 432 L870 442 L870 682 Q760 722 640 682 L640 442 L620 432 Z" fill="#c1c2c5"/>
<ellipse cx="760" cy="390" rx="138" ry="34" fill="#d0d1d4"/>
<ellipse cx="565" cy="340" rx="124" ry="30" fill="#c5c6c9"/>
<path d="M540 250 L590 240 L620 322 L530 332 Z" fill="#3a3c42"/>
</g>
<g transform="translate(1615,540) scale(0.11120)" filter="url(#softz)">
<path d="M820 290 Q960 280 1080 420 Q1180 560 1170 700 Q1100 862 960 902 Q880 862 880 820 L900 400 Z" fill="#45484d"/>
<path d="M900 330 Q1010 380 1080 520 Q1120 640 1100 760 Q1060 840 980 880 Q940 840 940 800 L960 420 Z" fill="#33363a"/>
<path d="M460 400 L860 400 L900 520 L700 562 L700 862 L640 872 L620 622 L520 562 Z" fill="#c5c7ca"/>
<path d="M430 320 Q470 280 560 275 L800 290 Q862 320 862 360 L800 402 L560 422 L450 382 Z" fill="#5b5e63"/>
<path d="M450 330 Q480 300 560 296 L790 308 Q830 325 835 345 L560 380 Z" fill="#6b6e73"/>
<path d="M720 560 L990 500 L1020 682 L900 792 L740 802 Z" fill="#505358"/>
<path d="M720 560 L990 500 L1000 540 L740 600 Z" fill="#63666b"/>
<path d="M165 560 Q180 420 300 390 Q420 400 520 560 Q600 700 610 900 Q600 1062 480 1112 Q400 1122 330 1040 Q200 860 165 560 Z" fill="#585b60"/>
<path d="M300 390 Q420 400 520 560 Q600 700 610 900 Q600 1062 480 1112 Q540 1000 520 860 Q480 600 300 390 Z" fill="#44474c"/>
<ellipse cx="345" cy="782" rx="116" ry="242" transform="rotate(-12 345 782)" fill="#e6e7e8"/>
<ellipse cx="362" cy="792" rx="80" ry="186" transform="rotate(-12 362 792)" fill="#bfc1c3"/>
</g>
<g transform="translate(1515,685) scale(0.10378)" filter="url(#softz)">
<path d="M290 800 Q320 660 420 640 L480 700 L460 1042 L400 1062 Q300 960 290 800 Z" fill="#b9bcc2"/>
<path d="M380 680 L440 690 L440 1020 L390 1030 Q350 860 380 680 Z" fill="#7c8087"/>
<path d="M440 720 L720 700 L740 1062 L470 1032 Z" fill="#c9ccd1"/>
<rect x="650" y="800" width="62" height="262" fill="#7a7e85"/>
<ellipse cx="862" cy="902" rx="132" ry="226" transform="rotate(8 862 902)" fill="#c6c9cf"/>
<ellipse cx="886" cy="912" rx="86" ry="162" transform="rotate(8 886 912)" fill="#43464c"/>
<ellipse cx="892" cy="912" rx="56" ry="112" transform="rotate(8 892 912)" fill="#2f3237"/>
<path d="M420 420 L700 400 L840 340 L830 602 L700 642 L440 562 Z" fill="#c2c5cb"/>
<path d="M700 400 L840 340 L830 602 L700 642 Z" fill="#b2b5bc"/>
<path d="M390 380 Q480 330 620 330 L850 320 L850 352 L700 412 L420 422 Z" fill="#55585e"/>
<path d="M640 190 Q710 160 790 190 L770 212 L780 322 L650 322 L670 212 Z" fill="#5d6066"/>
<path d="M650 520 L690 510 L742 680 L700 692 Z" fill="#3f7be0"/>
<rect x="390" y="430" width="26" height="52" fill="#3f7be0"/><rect x="700" y="400" width="36" height="62" fill="#3f7be0"/>
<path d="M540 600 L600 580 L740 740 L700 780 Z" fill="#d4d2cc"/>
<path d="M470 600 Q400 760 440 882 Q540 922 550 800 L520 622" fill="none" stroke="#3a3d42" stroke-width="11"/>
</g>
<g transform="translate(1475,820) scale(0.09637)" filter="url(#softz)">
<path d="M940 360 L1060 390 Q1150 520 1130 700 Q1080 842 960 852 Q860 800 820 720 L880 520 Z" fill="#4468d8"/>
<path d="M960 420 Q1060 520 1050 680 Q1020 800 960 852 Q860 800 820 720 L880 520 Z" fill="#3a5cca"/>
<path d="M420 470 L940 400 L960 642 L820 742 L620 702 L480 562 Z" fill="#4a70de"/>
<path d="M390 360 Q460 270 660 255 Q860 270 940 350 Q940 420 900 452 Q700 502 480 472 Q400 440 390 360 Z" fill="#3c4047"/>
<path d="M400 350 Q470 285 660 272 Q840 285 925 350 Q700 420 480 410 Q420 390 400 350 Z" fill="#4b5058"/>
<rect x="620" y="740" width="122" height="182" fill="#b9bcc2"/>
<path d="M180 660 Q200 560 330 530 Q460 560 560 700 Q640 860 635 1050 Q580 1132 470 1122 Q300 1040 210 860 Q170 760 180 660 Z" fill="#4f78e4"/>
<path d="M330 530 L440 545 Q560 640 622 762 Q660 900 635 1050 Q640 860 560 700 Q460 560 330 530 Z" fill="#3558c8"/>
<ellipse cx="365" cy="842" rx="64" ry="92" transform="rotate(-15 365 842)" fill="#3a5fd0"/>
<ellipse cx="300" cy="840" rx="200" ry="150" fill="#6a8ff0" opacity="0"/>
</g>
<g transform="translate(1615,775) scale(0.11862)" filter="url(#softz)">
<path d="M920 560 L1000 540 L1100 700 L1050 942 L960 972 L860 880 L900 700 Z" fill="#3a6ad0"/>
<path d="M1000 540 L1100 700 L1050 942 L1000 960 L1040 720 Z" fill="#4a7ee0"/>
<path d="M450 760 L620 810 L700 862 L520 1002 L480 962 Z" fill="#3a6ad0"/>
<path d="M530 880 L700 860 L722 1012 L680 1042 L520 1012 Z" fill="#c4c7cc"/>
<path d="M240 620 L320 600 L500 800 L520 1122 L460 1172 L300 980 Z" fill="#4a80e4"/>
<path d="M320 600 L500 800 L520 1122 L490 1150 L470 830 L290 610 Z" fill="#3a6ad0"/>
<ellipse cx="345" cy="892" rx="50" ry="96" transform="rotate(-20 345 892)" fill="#2c2f36"/>
<path d="M430 400 L600 560 L940 480 L920 762 L620 812 L450 642 Z" fill="#3f74dc"/>
<path d="M600 560 L940 480 L920 762 L620 812 Z" fill="#3567cc"/>
<rect x="625" y="610" width="96" height="92" fill="#e9ebee"/>
<ellipse cx="420" cy="572" rx="30" ry="26" fill="#2a2c33"/>
<path d="M420 350 Q560 290 760 285 Q900 340 945 430 Q940 472 900 492 L620 552 Q560 540 460 440 Z" fill="#4a4e57"/>
<ellipse cx="682" cy="420" rx="182" ry="92" transform="rotate(-8 682 420)" fill="#3a43b8"/>
<rect x="580" y="400" width="150" height="50" transform="rotate(-10 655 425)" fill="#2a3290"/>
<path d="M455 290 Q600 200 800 170 L832 192 Q700 282 520 312 Z" fill="#3f74dc"/>
<path d="M480 290 Q610 220 790 190 L810 200 Q690 270 530 298 Z" fill="#6f9af0"/>
</g>
<circle cx="1492.7" cy="310.9" r="61.5" fill="#ffffff" opacity="0.05"/>
<circle cx="1652" cy="289" r="67.7" fill="#ffffff" opacity="0.05"/>
<circle cx="1704.7" cy="413.5" r="61" fill="#ffffff" opacity="0.05"/>
<circle cx="1588.3" cy="517" r="51.5" fill="#ffffff" opacity="0.05"/>
<circle cx="1506.2" cy="627.5" r="54" fill="#ffffff" opacity="0.05"/>
<circle cx="1689.5" cy="615.2" r="62" fill="#ffffff" opacity="0.05"/>
<circle cx="1584.4" cy="752.5" r="54.8" fill="#ffffff" opacity="0.05"/>
<circle cx="1538.5" cy="884.4" r="50.2" fill="#ffffff" opacity="0.05"/>
<circle cx="1692.9" cy="853.8" r="66.3" fill="#ffffff" opacity="0.05"/>
<rect x="75" y="1051" width="1820" height="241.5" rx="46" fill="url(#bannerG)"/>
<text x="118" y="1167" font-size="68" fill="#4d6a7d" opacity="0.55" transform="translate(2.2,2.6)" filter="url(#sh)" textLength="203" lengthAdjust="spacing">保姆式</text>
<text x="118" y="1167" font-size="68" fill="url(#goldG)" textLength="203" lengthAdjust="spacing">保姆式</text>
<text x="122" y="1225" font-size="34" font-weight="700" fill="#fff" opacity="0.75" filter="url(#glow)" letter-spacing="21.5">服务模式</text>
<text x="122" y="1225" font-size="34" font-weight="700" fill="#fff" letter-spacing="21.5">服务模式</text>
<rect x="387" y="1168.2" width="1432" height="7" fill="#fff" opacity="0.7" filter="url(#glow2)"/>
<rect x="387" y="1169.2" width="1432" height="4" fill="#fff"/>
<rect x="387" y="1229" width="1432" height="7" fill="#fff" opacity="0.7" filter="url(#glow2)"/>
<rect x="387" y="1230" width="1432" height="4" fill="#fff"/>
<text x="385.4" y="1154.3" font-size="33" fill="#fff" opacity="0.5" filter="url(#glow)" textLength="307" lengthAdjust="spacing">12年超长期维护保障</text>
<text x="385.4" y="1154.3" font-size="33" fill="#fff" textLength="307" lengthAdjust="spacing">12年超长期维护保障</text>
<text x="838.4" y="1154.3" font-size="33" fill="#fff" opacity="0.5" filter="url(#glow)" textLength="270" lengthAdjust="spacing">运行管理平台定制</text>
<text x="838.4" y="1154.3" font-size="33" fill="#fff" textLength="270" lengthAdjust="spacing">运行管理平台定制</text>
<text x="1271" y="1154.3" font-size="33" fill="#fff" opacity="0.5" filter="url(#glow)" textLength="201" lengthAdjust="spacing">线路巡查维护</text>
<text x="1271" y="1154.3" font-size="33" fill="#fff" textLength="201" lengthAdjust="spacing">线路巡查维护</text>
<text x="1582.5" y="1154.3" font-size="33" fill="#fff" opacity="0.5" filter="url(#glow)" textLength="237" lengthAdjust="spacing">定制化平台开放</text>
<text x="1582.5" y="1154.3" font-size="33" fill="#fff" textLength="237" lengthAdjust="spacing">定制化平台开放</text>
<text x="394.4" y="1212.5" font-size="33" fill="#fff" opacity="0.5" filter="url(#glow)" textLength="270.5" lengthAdjust="spacing">水表以旧换新服务</text>
<text x="394.4" y="1212.5" font-size="33" fill="#fff" textLength="270.5" lengthAdjust="spacing">水表以旧换新服务</text>
<text x="838.4" y="1212.5" font-size="33" fill="#fff" opacity="0.5" filter="url(#glow)" textLength="270" lengthAdjust="spacing">月度运维分析报告</text>
<text x="838.4" y="1212.5" font-size="33" fill="#fff" textLength="270" lengthAdjust="spacing">月度运维分析报告</text>
<text x="1271" y="1212.5" font-size="33" fill="#fff" opacity="0.5" filter="url(#glow)" textLength="201.5" lengthAdjust="spacing">数据抄收保障</text>
<text x="1271" y="1212.5" font-size="33" fill="#fff" textLength="201.5" lengthAdjust="spacing">数据抄收保障</text>
<text x="1582.5" y="1212.5" font-size="33" fill="#fff" opacity="0.5" filter="url(#glow)" textLength="237" lengthAdjust="spacing">支持多协议兼容</text>
<text x="1582.5" y="1212.5" font-size="33" fill="#fff" textLength="237" lengthAdjust="spacing">支持多协议兼容</text>
</svg>
</body></html>
